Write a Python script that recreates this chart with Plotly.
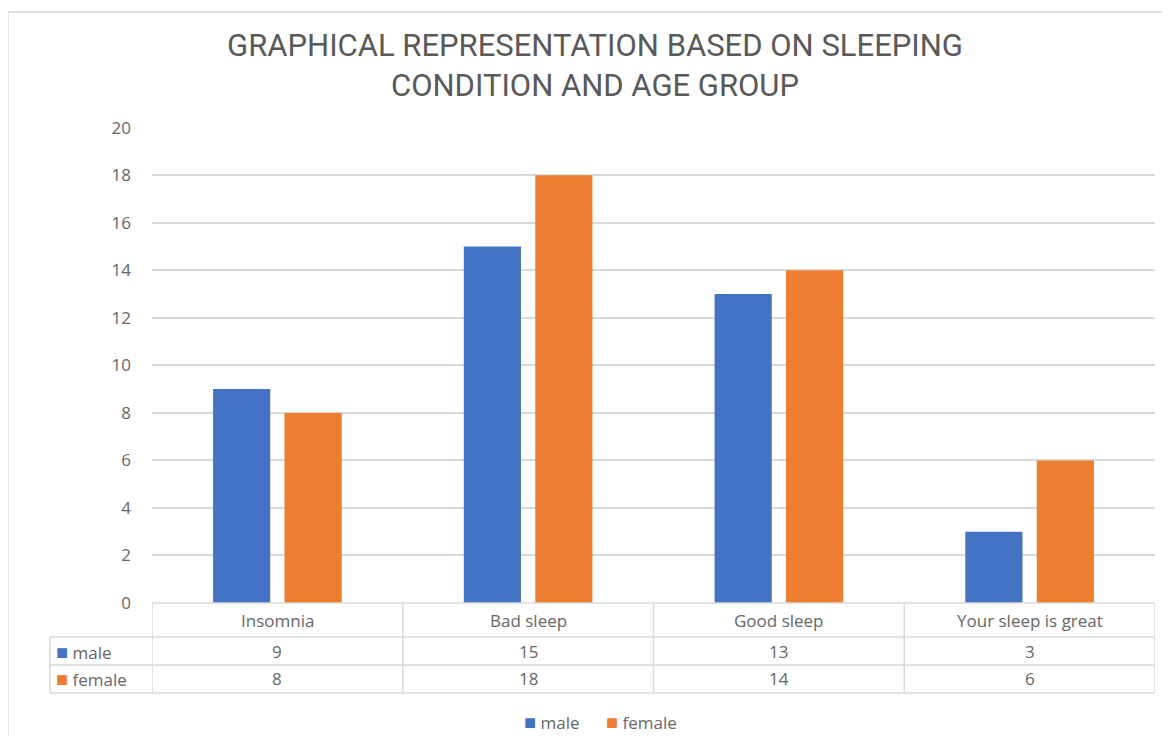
import plotly.graph_objects as go

categories = ["Insomnia", "Bad sleep", "Good sleep", "Your sleep is great"]
male = [9, 15, 13, 3]
female = [8, 18, 14, 6]
series_names = ["male", "female"]
y_ticks = [0, 2, 4, 6, 8, 10, 12, 14, 16, 18, 20]

BLUE = "#4472C4"
ORANGE = "#ED7D31"
TXT = "#595959"
TXT2 = "#666666"
GRID = "#D9D9D9"
FONT = "Open Sans, Lato, sans-serif"

OFF = 8  # page body margin
W, H = 1170 - OFF, 744 - 2 * OFF
SL, SR, ST, SB = 152, 1155, 127, 603  # plot area in screen px
L, R, T, B = SL - OFF, W - (SR - OFF), ST - OFF, H - (SB - OFF)
pw, ph = W - L - R, H - T - B

def px_x(px):
    return (px - OFF - L) / pw

def px_y(py):
    return (H - B - (py - OFF)) / ph

fig = go.Figure()
series = [(series_names[0], male, BLUE), (series_names[1], female, ORANGE)]
for name, vals, col in series:
    fig.add_trace(go.Bar(x=categories, y=vals, name=name, marker=dict(color=col, line=dict(width=0))))

shapes = []
for i in range(len(categories) + 1):
    shapes.append(dict(type="line", xref="x", yref="paper", x0=i - 0.5, x1=i - 0.5,
                       y0=0, y1=px_y(693), line=dict(color=GRID, width=1.5)))
for py, x0 in [(603, 0), (637, px_x(50)), (665, px_x(50)), (693, px_x(50))]:
    shapes.append(dict(type="line", xref="paper", yref="paper", x0=x0, x1=1,
                       y0=px_y(py), y1=px_y(py), line=dict(color=GRID, width=1.5)))
shapes.append(dict(type="line", xref="paper", yref="paper", x0=px_x(50), x1=px_x(50),
                   y0=px_y(637), y1=px_y(693), line=dict(color=GRID, width=1.5)))
shapes.append(dict(type="rect", xref="paper", yref="paper", x0=px_x(8), x1=px_x(1185),
                   y0=px_y(765), y1=px_y(12), line=dict(color=GRID, width=1.5), layer="below"))

annotations = []
for c in categories:
    annotations.append(dict(x=c, xref="x", y=px_y(620), yref="paper", text=c, showarrow=False,
                            font=dict(size=17, color=TXT2, family=FONT), xanchor="center", yanchor="middle"))
row_y = [px_y(651), px_y(679)]
for (name, vals, col), ry in zip(series, row_y):
    for c, v in zip(categories, vals):
        annotations.append(dict(x=c, xref="x", y=ry, yref="paper", text=str(v), showarrow=False,
                                font=dict(size=17, color=TXT2, family=FONT), xanchor="center", yanchor="middle"))
    annotations.append(dict(x=px_x(54), xref="paper", y=ry, yref="paper",
                            text=f"<span style='color:{col};font-size:20px'>■</span> {name}",
                            showarrow=False, font=dict(size=17, color=TXT2, family=FONT),
                            xanchor="left", yanchor="middle"))

# bottom legend
legend_text = "      ".join(f"<span style='color:{col};font-size:20px'>■</span> {name}" for name, _, col in series)
annotations.append(dict(x=px_x(600), xref="paper", y=px_y(721), yref="paper", text=legend_text,
                        showarrow=False, font=dict(size=17, color=TXT2, family=FONT),
                        xanchor="center", yanchor="middle"))

fig.update_layout(
    width=W, height=H,
    margin=dict(l=L, r=R, t=T, b=B),
    paper_bgcolor="white", plot_bgcolor="white",
    title=dict(text="GRAPHICAL REPRESENTATION BASED ON SLEEPING<br>CONDITION AND AGE GROUP",
               x=(595 - OFF) / W, xanchor="center", y=1 - (56 - OFF) / H, yanchor="middle",
               font=dict(size=31, color=TXT, family="Roboto, sans-serif")),
    barmode="group", bargap=0.43, bargroupgap=0.2,
    showlegend=False,
    xaxis=dict(showticklabels=False, showline=False, showgrid=False, zeroline=False,
               range=[-0.5, len(categories) - 0.5]),
    yaxis=dict(range=[0, 20.03], tickvals=y_ticks, showgrid=True, gridcolor=GRID, gridwidth=1.5,
               zeroline=False, showline=False, ticks="", ticklabelstandoff=20,
               tickfont=dict(size=17, color=TXT2, family=FONT)),
    shapes=shapes, annotations=annotations,
)

fig.write_html("out.html")
